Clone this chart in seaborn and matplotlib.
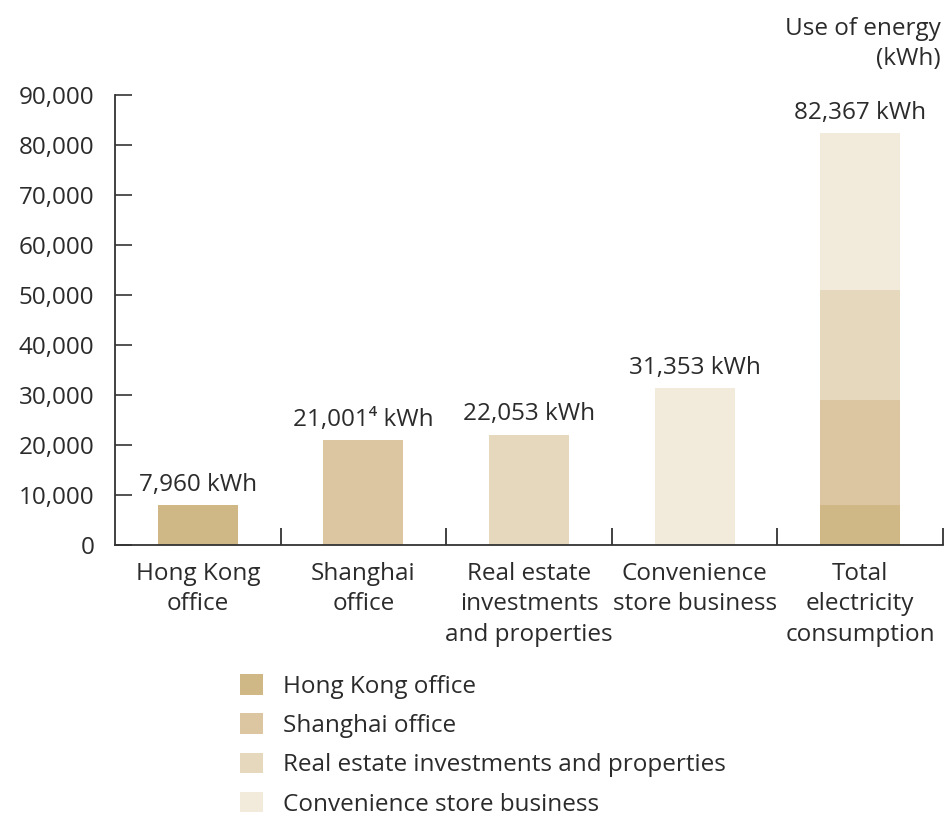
import matplotlib
matplotlib.use("Agg")
import matplotlib.pyplot as plt
import seaborn as sns
import pandas as pd
import numpy as np
from matplotlib.patches import Patch
from matplotlib.ticker import FuncFormatter, FixedLocator

categories = ["Hong Kong\noffice", "Shanghai\noffice", "Real estate\ninvestments\nand properties",
              "Convenience\nstore business", "Total\nelectricity\nconsumption"]
series = ["Hong Kong office", "Shanghai office", "Real estate investments and properties",
          "Convenience store business"]
values = [7960, 21001, 22053, 31353]
value_labels = ["7,960 kWh", "21,001\u2074 kWh", "22,053 kWh", "31,353 kWh"]
total_label = "82,367 kWh"
colors = ["#CFB786", "#DCC6A1", "#E5D8BC", "#F2EADB"]
yticks = [0, 10000, 20000, 30000, 40000, 50000, 60000, 70000, 80000, 90000]

sns.set_theme(style="white")
plt.rcParams['font.family'] = ['Open Sans', 'DejaVu Sans']
FS = 17.5
plt.rcParams['font.size'] = FS
text_color = "#2b2b2b"

fig = plt.figure(figsize=(9.44, 8.16), dpi=100)
ax = fig.add_axes([115/944, 1-545/816, (943-115)/944, (545-95)/816])

df = pd.DataFrame({"category": categories[:4], "series": series, "value": values})
pal = dict(zip(series, colors))
sns.barplot(data=df, x="category", y="value", hue="series", order=categories,
            hue_order=series, palette=pal, dodge=False, width=0.483, ax=ax,
            legend=False, saturation=1)

# stacked total: draw cumulative sums from largest to smallest
cum = np.cumsum(values)
for s, c, v in reversed(list(zip(series, colors, cum))):
    tdf = pd.DataFrame({"category": [categories[4]], "value": [v]})
    sns.barplot(data=tdf, x="category", y="value", order=categories, color=c,
                width=0.483, ax=ax, saturation=1)

for p in ax.patches:
    p.set_edgecolor("none")
    p.set_linewidth(0)

ax.set_xlim(-0.5, 4.5)
ax.set_ylim(0, 90000)
ax.set_xlabel("")
ax.set_ylabel("")
ax.yaxis.set_major_locator(FixedLocator(yticks))
ax.yaxis.set_major_formatter(FuncFormatter(lambda v, p: f"{int(v):,}"))

for sp in ["top", "right"]:
    ax.spines[sp].set_visible(False)
for sp in ["left", "bottom"]:
    ax.spines[sp].set_color("#333333")
    ax.spines[sp].set_linewidth(1.3)

ax.tick_params(axis="y", which="major", direction="in", length=12, width=1.3,
               color="#444444", labelsize=FS, labelcolor=text_color, pad=15, left=True)
ax.tick_params(axis="x", which="major", length=0, labelsize=FS, labelcolor=text_color, pad=12)
ax.set_xticks([0.5, 1.5, 2.5, 3.5, 4.5], minor=True)
ax.tick_params(axis="x", which="minor", direction="in", length=12, width=1.3,
               color="#333333", bottom=True)
for lbl in ax.get_xticklabels():
    lbl.set_linespacing(1.36)

# value annotations
for i, (v, t) in enumerate(zip(values, value_labels)):
    ax.annotate(t, xy=(i, v), xytext=(0, 6), textcoords="offset points",
                ha="center", va="bottom", fontsize=FS, color=text_color)
ax.annotate(total_label, xy=(4, cum[-1]), xytext=(0, 6), textcoords="offset points",
            ha="center", va="bottom", fontsize=FS, color=text_color)

fig.text(941/944, 1-44/816, "Use of energy\n(kWh)", ha="right", va="center",
         fontsize=FS, color=text_color, linespacing=1.38)

handles = [Patch(facecolor=c, edgecolor="none", label=s) for s, c in zip(series, colors)]
fig.legend(handles=handles, loc="upper left", bbox_to_anchor=(240/944, 1-674/816),
           frameon=False, fontsize=FS, handlelength=0.93, handleheight=0.93,
           handletextpad=0.85, labelspacing=0.6, borderaxespad=0, borderpad=0,
           labelcolor=text_color)

fig.savefig("out.png", dpi=100, facecolor="white")
